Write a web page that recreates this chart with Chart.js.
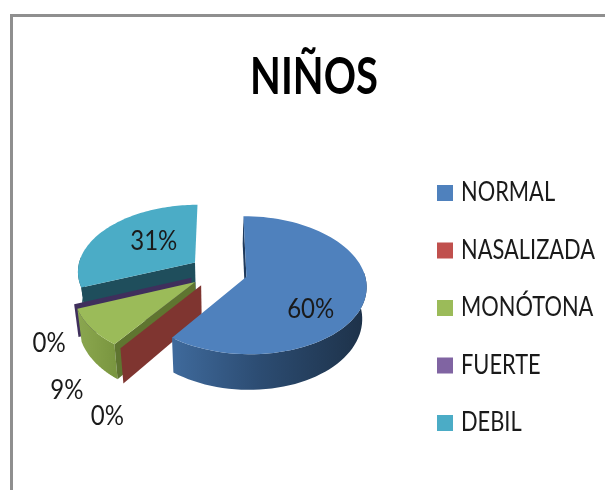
<!DOCTYPE html>
<html>
<head>
<meta charset="utf-8">
<style>
  html, body { margin: 0; padding: 0; background: #fff; overflow: hidden; }
  #page { position: relative; width: 605px; height: 490px; overflow: hidden; }
  #frame { position: absolute; left: 10px; top: 14px; right: 0; bottom: 0;
           border-left: 3px solid #8f8f8f; border-top: 3px solid #8f8f8f; }
  canvas { position: absolute; left: 13px; top: 17px; filter: blur(0.5px); }
</style>
<script src="https://cdn.jsdelivr.net/npm/chart.js@4"></script>
</head>
<body>
<div id="page">
  <div id="frame"></div>
  <canvas id="pie" width="592" height="473"></canvas>
</div>
<script>
const chartTitle = "NIÑOS";
const categories = ["NORMAL", "NASALIZADA", "MONÓTONA", "FUERTE", "DEBIL"];
const percents = [60, 0, 9, 0, 31];
const topColors = ["#4f81bd", "#c0504d", "#9bbb59", "#8064a2", "#4bacc6"];
const rimColors = [
  ["#3f6a9c", "#2c4c72", "#1d3148"],
  ["#7f3530", "#7f3530", "#7f3530"],
  ["#8aa650", "#84a048", "#7a9640"],
  ["#3f2f5c", "#3f2f5c", "#3f2f5c"],
  ["#1f4e5c", "#1f4e5c", "#1f4e5c"],
];
const cutColors = ["#1f3a5c", "#7f3530", "#5f7530", "#3f2f5c", "#1f4e5c"];

// where the % text sits: fraction of radius along the slice, then a nudge
const labelSpots = [
  [0.56, -1, 20],
  [1, -13, 68],
  [1, -24, 62],
  [1, -25, 39],
  [0.45, 0, -5],
];

const FONT = 'Lato, "Liberation Sans", sans-serif';

// fake 3D view of the flat pie
const PIE_X = 205.6;
const PIE_Y = 254.7;
const TILT = 0.567;
const PERSP = 0.12;
const DEPTH = 31;

function project(u, v, z, R) {
  const s = 1 / (1 - (PERSP * v) / R);
  const k = z ? 0.97 : 1;
  return { x: PIE_X + u * s * k, y: PIE_Y + TILT * v * s + z * s };
}

function sliceCenter(arc) {
  const off = (arc.options.offset || 0) / 2;
  const mid = (arc.startAngle + arc.endAngle) / 2;
  return { u: Math.cos(mid) * off, v: Math.sin(mid) * off, mid };
}

function rimAngles(arc) {
  const out = [];
  const steps = 80;
  for (let i = 0; i <= steps; i++) {
    out.push(arc.startAngle + ((arc.endAngle - arc.startAngle) * i) / steps);
  }
  return out;
}

function rimPoints(angles, arc, c, z) {
  const R = arc.outerRadius;
  return angles.map((a) => project(c.u + Math.cos(a) * R, c.v + Math.sin(a) * R, z, R));
}

function fillPoly(ctx, pts, fill) {
  ctx.beginPath();
  pts.forEach((p, i) => (i ? ctx.lineTo(p.x, p.y) : ctx.moveTo(p.x, p.y)));
  ctx.closePath();
  ctx.fillStyle = fill;
  ctx.fill();
}

function cutWall(ctx, arc, c, angle, fill) {
  const R = arc.outerRadius;
  const ru = c.u + Math.cos(angle) * R;
  const rv = c.v + Math.sin(angle) * R;
  fillPoly(ctx, [
    project(c.u, c.v, 0, R),
    project(ru, rv, 0, R),
    project(ru, rv, DEPTH, R),
    project(c.u, c.v, DEPTH, R),
  ], fill);
}

// the original font is much narrower than anything installed
function squeezeText(ctx) {
  const fillText = ctx.fillText;
  ctx.fillText = function (text, x, y) {
    const sx = text === chartTitle ? 0.77 : categories.includes(text) ? 0.84 : 0.89;
    ctx.save();
    ctx.translate(x, y);
    ctx.scale(sx, 1);
    fillText.call(ctx, text, 0, 0);
    ctx.restore();
  };
}

const pie3d = {
  id: "pie3d",
  install(chart) {
    squeezeText(chart.ctx);
  },
  afterLayout(chart) {
    // legend column and title sit where the original has them
    const pad = chart.legend.options.labels.padding;
    chart.legend.left = 429 - pad;
    chart.legend.right = 592;
    chart.legend.top = 163 - pad;
    chart.legend.bottom = 473;
    chart.titleBlock.left = 10;
  },
  beforeDatasetsDraw(chart) {
    const { ctx } = chart;
    const arcs = chart.getDatasetMeta(0).data;
    ctx.save();
    // back to front
    for (let i = arcs.length - 1; i >= 0; i--) {
      const arc = arcs[i];
      const R = arc.outerRadius;
      const c = sliceCenter(arc);
      const angles = rimAngles(arc);
      const front = angles.filter((a) => Math.sin(a) > -0.1);

      if (arc.endAngle > arc.startAngle && front.length) {
        const top = rimPoints(front, arc, c, 0);
        const bottom = rimPoints(front, arc, c, DEPTH);
        const xs = rimPoints(angles, arc, c, 0).map((p) => p.x);
        const grad = ctx.createLinearGradient(Math.min(...xs), 0, Math.max(...xs), 0);
        grad.addColorStop(0, rimColors[i][0]);
        grad.addColorStop(0.45, rimColors[i][1]);
        grad.addColorStop(1, rimColors[i][2]);
        fillPoly(ctx, top.concat(bottom.reverse()), grad);
      }
      if (-Math.cos(arc.startAngle) > -0.001) cutWall(ctx, arc, c, arc.startAngle, cutColors[i]);
      if (Math.cos(arc.endAngle) > 0.001) cutWall(ctx, arc, c, arc.endAngle, cutColors[i]);
      if (arc.endAngle > arc.startAngle) {
        fillPoly(ctx, [project(c.u, c.v, 0, R)].concat(rimPoints(angles, arc, c, 0)), topColors[i]);
      }
    }
    // % texts
    ctx.font = "27px " + FONT;
    ctx.fillStyle = "#1a1a1a";
    ctx.textAlign = "center";
    ctx.textBaseline = "middle";
    arcs.forEach((arc, i) => {
      const R = arc.outerRadius;
      const c = sliceCenter(arc);
      const [f, dx, dy] = labelSpots[i];
      const p = project(c.u + Math.cos(c.mid) * R * f, c.v + Math.sin(c.mid) * R * f, 0, R);
      ctx.fillText(percents[i] + "%", p.x + dx, p.y + dy);
    });
    ctx.restore();
    return false;
  },
};

new Chart(document.getElementById("pie"), {
  type: "pie",
  data: {
    labels: categories,
    datasets: [{
      data: percents,
      backgroundColor: topColors,
      borderWidth: 0,
      offset: 58,
      hoverOffset: 0,
    }],
  },
  plugins: [pie3d],
  options: {
    responsive: false,
    animation: false,
    layout: { padding: { bottom: 73 } },
    plugins: {
      tooltip: { enabled: false },
      title: {
        display: true,
        text: chartTitle,
        color: "#000",
        font: { family: FONT, size: 52, weight: "bold" },
        padding: { top: 29, bottom: 15 },
      },
      legend: {
        position: "right",
        align: "start",
        labels: {
          font: { family: FONT, size: 26 },
          color: "#1a1a1a",
          padding: 31.5,
          boxWidth: 6,
          boxHeight: 6,
          generateLabels(chart) {
            return Chart.overrides.pie.plugins.legend.labels.generateLabels(chart).map((item) => {
              item.lineWidth = 10;
              item.strokeStyle = item.fillStyle;
              return item;
            });
          },
        },
      },
    },
  },
});
</script>
</body>
</html>
